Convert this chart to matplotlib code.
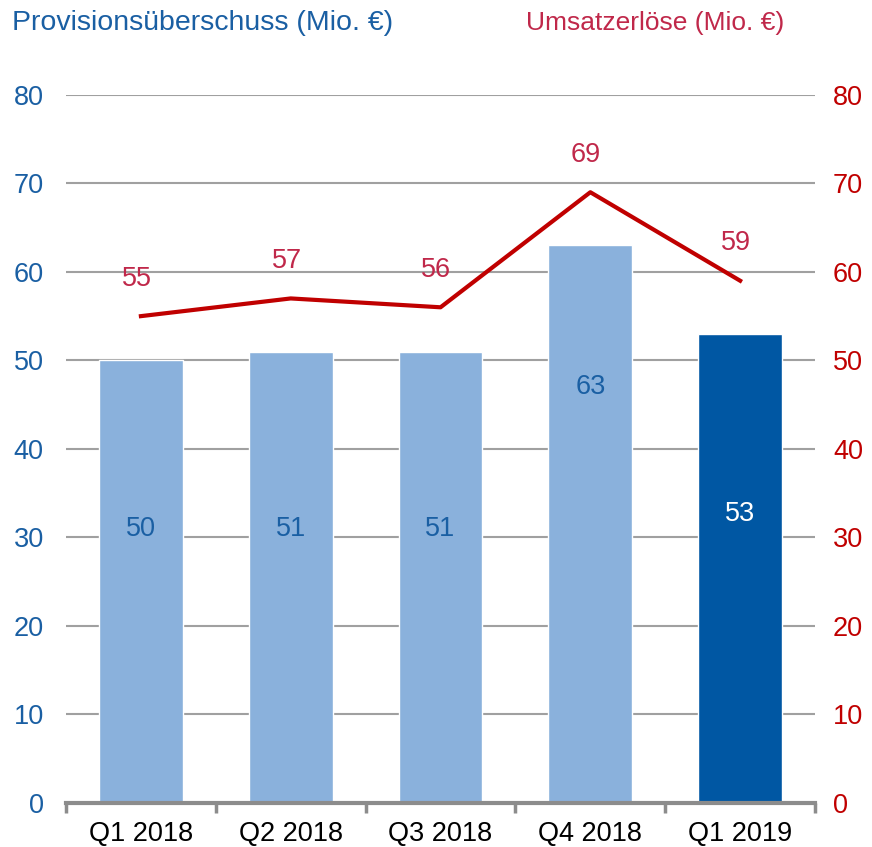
import numpy as np
import matplotlib.pyplot as plt

plt.rcParams['font.family'] = ['Liberation Sans', 'DejaVu Sans']

# Data
quarters = ['Q1 2018', 'Q2 2018', 'Q3 2018', 'Q4 2018', 'Q1 2019']
provision = [50, 51, 51, 63, 53]
umsatz = [55, 57, 56, 69, 59]
bar_label_y = [31, 31, 31, 47.0, 32.7]

blue_txt = '#1a5fa3'
red_axis = '#c00000'
red_txt = '#c0284a'
bar_colors = ['#8ab1dc'] * 4 + ['#0057a3']
bar_txt_colors = [blue_txt] * 4 + ['white']
fs = 19.5

fig = plt.figure(figsize=(8.72, 8.47), dpi=100)
ax = fig.add_axes([0.0757, 0.052, 0.859, 0.836])
x = np.arange(len(quarters))

ax.bar(x, provision, width=0.56, color=bar_colors, edgecolor='white', linewidth=1, zorder=2)
for xi, v, ly, c in zip(x, provision, bar_label_y, bar_txt_colors):
    ax.text(xi, ly, str(v), ha='center', va='center', fontsize=fs, color=c, zorder=3)

ax.set_xlim(-0.5, len(quarters) - 0.5)
ax.set_ylim(0, 80)
ax.set_yticks(range(0, 81, 10))
ax.yaxis.grid(True, color='#a0a0a0', linewidth=1.5, zorder=0)
ax.set_axisbelow(True)
ax.tick_params(axis='y', length=0, labelsize=fs, labelcolor=blue_txt, pad=16)

ax.set_xticks(x)
ax.set_xticklabels(quarters)
ax.set_xticks(np.arange(-0.5, len(quarters)), minor=True)
ax.tick_params(axis='x', which='major', length=0, labelsize=fs, pad=13)
ax.tick_params(axis='x', which='minor', length=7, width=2.5, color='#8c8c8c', direction='out')

for s in ['top', 'left', 'right']:
    ax.spines[s].set_visible(False)
ax.spines['bottom'].set_color('#8c8c8c')
ax.spines['bottom'].set_linewidth(3)

ax2 = ax.twinx()
ax2.plot(x, umsatz, color=red_axis, linewidth=3, zorder=4)
for xi, v in zip(x, umsatz):
    ax2.annotate(str(v), (xi, v), xytext=(-3, 27), textcoords='offset points',
                 ha='center', va='center', fontsize=fs, color=red_txt)
ax2.set_ylim(0, 80)
ax2.set_yticks(range(0, 81, 10))
ax2.tick_params(axis='y', length=0, labelsize=fs, labelcolor=red_axis, pad=13)
for s in ['top', 'left', 'right', 'bottom']:
    ax2.spines[s].set_visible(False)

fig.text(0.014, 0.973, 'Provisionsüberschuss (Mio. €)', fontsize=20.5, color=blue_txt, va='center')
fig.text(0.899, 0.973, 'Umsatzerlöse (Mio. €)', fontsize=19, color=red_txt, va='center', ha='right')

fig.savefig('out.png', dpi=100)
